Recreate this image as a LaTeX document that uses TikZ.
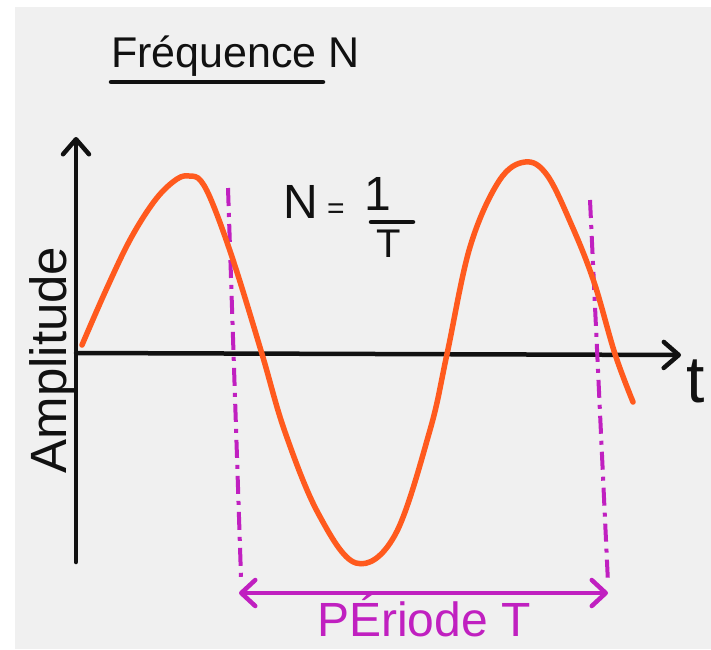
\documentclass[tikz,border=0pt]{standalone}
\usepackage{fontspec}
\setmainfont{Liberation Sans}
\usetikzlibrary{arrows.meta}
\definecolor{paper}{HTML}{F0F0F0}
\definecolor{wave}{HTML}{FF5A1E}
\definecolor{mag}{HTML}{C020C0}
\definecolor{ink}{HTML}{111111}
\begin{document}
\begin{tikzpicture}[x=1pt,y=-1pt,
  axis/.style={line width=4.5pt, ink, line cap=round},
  barb/.style={-{Straight Barb[length=15pt,width=26pt,round]}},
  dbarb/.style={{Straight Barb[length=14pt,width=26pt,round]}-{Straight Barb[length=14pt,width=26pt,round]}},
  wavepen/.style={wave, line width=5.5pt, line cap=round, line join=round},
  dashpen/.style={mag, line width=4pt, dash pattern=on 18pt off 7pt on 4pt off 7pt},
  lbl/.style={inner sep=0pt, text=ink}
]
\fill[white] (0,0) rectangle (711,649);
\fill[paper] (15,7) rectangle (711,649);
\useasboundingbox (0,0) rectangle (711,649);

% title
\node[lbl, anchor=base west, font=\fontsize{43}{43}\selectfont] (title) at (111,67) {Fréquence N};
\coordinate (ul1) at (111,82);
\coordinate (ul2) at (323,82);
\draw[line width=4.5pt, ink, line cap=round] (ul1) -- (ul2);

% axes
\coordinate (O) at (76,353);
\coordinate (ytop) at (76,137);
\coordinate (ybot) at (76,562);
\coordinate (xend) at (681,355);
\draw[axis, barb] (ybot) -- (ytop);
\draw[axis, barb] (O) -- (xend);

% labels
\node[lbl, rotate=90, anchor=base, font=\fontsize{51}{51}\selectfont] (ylabel) at (66,360) {Amplitude};
\node[lbl, anchor=base, font=\fontsize{66}{66}\selectfont] (tlabel) at (696,402) {t};

% formula
\node[lbl, anchor=base west, font=\fontsize{48}{48}\selectfont] (Nsym) at (283,218) {N};
\node[lbl, anchor=center, font=\fontsize{30}{30}\selectfont] (eqsign) at (336,211) {=};
\node[lbl, anchor=base, font=\fontsize{48}{48}\selectfont] (one) at (378,210) {1};
\coordinate (fb1) at (371,222);
\coordinate (fb2) at (413,222);
\draw[line width=4.5pt, ink, line cap=round] (fb1) -- (fb2);
\node[lbl, anchor=base, font=\fontsize{40}{40}\selectfont] (Tsym) at (389,257) {T};

% dashed period markers
\coordinate (dl1) at (228,188);
\coordinate (dl2) at (241,577);
\coordinate (dr1) at (590,200);
\coordinate (dr2) at (608,583);
\draw[dashpen] (dl1) -- (dl2);
\draw[dashpen] (dr1) -- (dr2);

% wave
\draw[wavepen] plot[smooth, tension=0.6] coordinates {
 (82,345) (106,290) (131,238) (156,199) (177,179) (190,176) (201,181)
 (214,207) (235,266) (262,354) (285,432) (318,513) (356,563) (395,535) (430,430)
 (447,354) (470,247) (499,181) (525,162) (547,175) (572,226) (594,282)
 (615,354) (633,402)};

% period arrow
\coordinate (pl) at (239,593);
\coordinate (pr) at (608,593);
\draw[mag, line width=4.5pt, line cap=round, dbarb] (pl) -- (pr);
\node[inner sep=0pt, text=mag, anchor=base, font=\fontsize{48}{48}\selectfont] (period) at (424,636) {PÉriode T};
\end{tikzpicture}
\end{document}
